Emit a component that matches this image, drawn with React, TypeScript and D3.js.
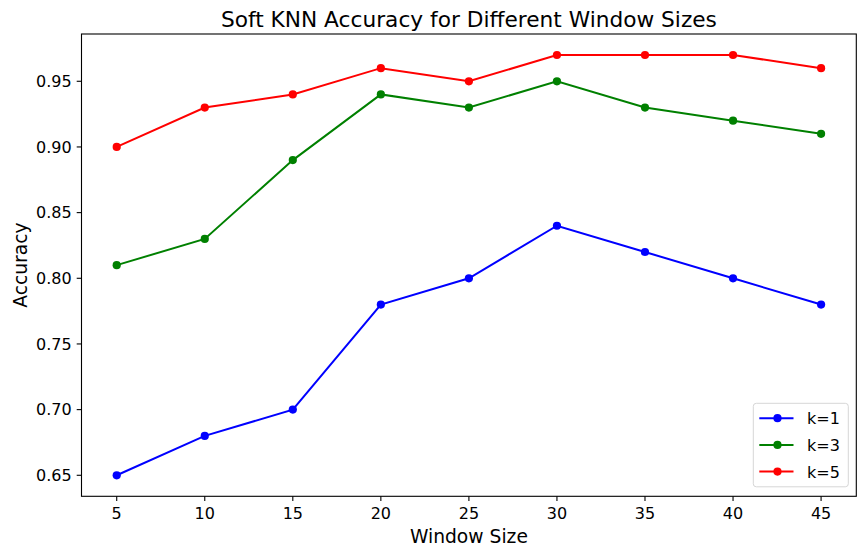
import React from "react";
import * as d3 from "d3";

const windowSizes = [5, 10, 15, 20, 25, 30, 35, 40, 45];
const k1 = [0.65, 0.68, 0.70, 0.78, 0.80, 0.84, 0.82, 0.80, 0.78];
const k3 = [0.81, 0.83, 0.89, 0.94, 0.93, 0.95, 0.93, 0.92, 0.91];
const k5 = [0.90, 0.93, 0.94, 0.96, 0.95, 0.97, 0.97, 0.97, 0.96];
const seriesNames = ["k=1", "k=3", "k=5"];
const seriesColors = ["#0000ff", "#008000", "#ff0000"];
const xTicks = [5, 10, 15, 20, 25, 30, 35, 40, 45];
const yTicks = [0.65, 0.7, 0.75, 0.8, 0.85, 0.9, 0.95];

const W = 866, H = 558;
const L = 81.5, R = 856.3, T = 34, B = 496.3;
const FONT = "DejaVu Sans, sans-serif";

export default function App() {
  const x = d3.scaleLinear().domain([3, 47]).range([L, R]);
  const y = d3.scaleLinear().domain([0.634, 0.986]).range([B, T]);
  const line = d3.line<number>().x((_, i) => x(windowSizes[i])).y((d) => y(d));
  const series = [k1, k3, k5];
  return (
    <svg width={W} height={H} style={{ position: "absolute", left: 0, top: 0 }} fontFamily={FONT}>
      <rect width={W} height={H} fill="#fff" />
      {series.map((s, si) => (
        <g key={si}>
          <path d={line(s) || ""} fill="none" stroke={seriesColors[si]} strokeWidth={2} />
          {s.map((v, i) => (
            <circle key={i} cx={x(windowSizes[i])} cy={y(v)} r={4.1} fill={seriesColors[si]} />
          ))}
        </g>
      ))}
      <rect x={L} y={T} width={R - L} height={B - T} fill="none" stroke="#000" strokeWidth={1.1} />
      {xTicks.map((t) => (
        <g key={t}>
          <line x1={x(t)} x2={x(t)} y1={B} y2={B + 4.8} stroke="#000" strokeWidth={1.1} />
          <text x={x(t)} y={519.3} textAnchor="middle" fontSize={16} fill="#000">{t}</text>
        </g>
      ))}
      {yTicks.map((t) => (
        <g key={t}>
          <line x1={L} x2={L - 4.8} y1={y(t)} y2={y(t)} stroke="#000" strokeWidth={1.1} />
          <text x={L - 9.8} y={y(t) + 5.8} textAnchor="end" fontSize={16} fill="#000">{t.toFixed(2)}</text>
        </g>
      ))}
      <text x={(L + R) / 2} y={26.5} textAnchor="middle" fontSize={21.7} fill="#000">Soft KNN Accuracy for Different Window Sizes</text>
      <text x={(L + R) / 2} y={543.3} textAnchor="middle" fontSize={18.7} fill="#000">Window Size</text>
      <text transform={`translate(27,${(T + B) / 2}) rotate(-90)`} textAnchor="middle" fontSize={18.7} fill="#000">Accuracy</text>
      <g>
        <rect x={753.3} y={403.3} width={95} height={83.5} rx={3} fill="#fff" fillOpacity={0.8} stroke="#d6d6d6" strokeWidth={1} />
        {seriesNames.map((n, i) => (
          <g key={n} transform={`translate(0,${418.2 + i * 26.7})`}>
            <line x1={759.3} x2={793.5} y1={0} y2={0} stroke={seriesColors[i]} strokeWidth={2} />
            <circle cx={777.5} cy={0} r={4.1} fill={seriesColors[i]} />
            <text x={807} y={6} fontSize={16} fill="#000">{n}</text>
          </g>
        ))}
      </g>
    </svg>
  );
}
